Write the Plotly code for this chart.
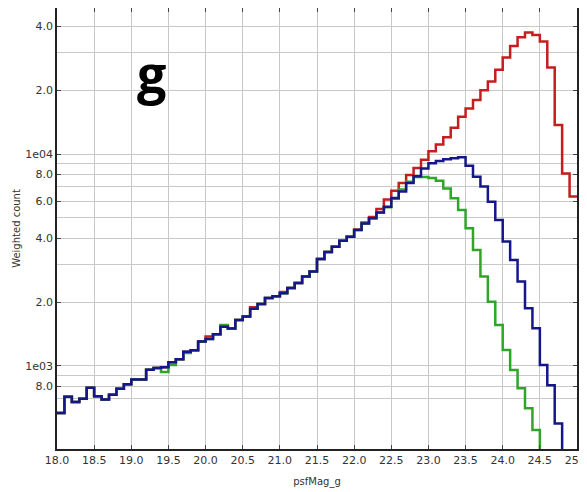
import numpy as np
import plotly.graph_objects as go

# bin starts (0.1 mag bins), 18.0 .. 24.9
bin_starts = np.round(np.arange(180, 250) / 10.0, 1)
bin_width = 0.1

red_counts = [600, 716, 676, 700, 788, 719, 694, 732, 780, 820,
              862, 862, 960, 977, 985, 1040, 1075, 1165, 1185, 1305,
              1375, 1410, 1530, 1500, 1645, 1710, 1890, 1960, 2090, 2130,
              2230, 2330, 2460, 2640, 2790, 3200, 3450, 3650, 3900, 4075,
              4400, 4750, 5050, 5500, 6100, 6700, 7300, 7950, 8600, 9400,
              10300, 11100, 12000, 13300, 15000, 16400, 18000, 20000, 22000, 25000,
              28500, 32300, 35600, 37400, 36400, 34000, 25600, 13700, 8100, 6300]

blue_counts = [600, 716, 676, 700, 788, 719, 694, 732, 780, 820,
               862, 862, 960, 977, 985, 1040, 1075, 1165, 1185, 1305,
               1340, 1410, 1530, 1500, 1645, 1710, 1860, 1960, 2090, 2130,
               2200, 2330, 2460, 2640, 2790, 3200, 3450, 3650, 3900, 4075,
               4380, 4700, 4970, 5300, 5640, 6200, 6650, 7300, 7850, 8550,
               9040, 9280, 9440, 9540, 9650, 8800, 7810, 7020, 5960, 4880,
               3860, 3160, 2500, 1870, 1505, 1011, 810, 535, 300, 150]

green_counts = [600, 716, 676, 700, 788, 719, 694, 732, 780, 820,
                862, 862, 960, 977, 935, 1010, 1075, 1150, 1185, 1305,
                1340, 1410, 1560, 1500, 1645, 1710, 1860, 1960, 2090, 2130,
                2200, 2330, 2460, 2640, 2790, 3200, 3450, 3650, 3900, 4075,
                4380, 4700, 4970, 5300, 5600, 6150, 6800, 7400, 7800, 7800,
                7700, 7480, 6880, 6180, 5440, 4460, 3520, 2640, 2010, 1560,
                1190, 957, 785, 631, 499, 300, 150, 80, 40, 20]

y_tickvals = [800, 1000, 2000, 4000, 6000, 8000, 10000, 20000, 40000]
y_ticktext = ["8.0", "1e03", "2.0", "4.0", "6.0", "8.0", "1e04", "2.0", "4.0"]
y_minor_vals = [700, 900, 3000, 5000, 7000, 9000, 30000]

x_edges = list(bin_starts) + [round(bin_starts[-1] + bin_width, 1)]

def step_y(vals):
    return list(vals) + [vals[-1]]

fig = go.Figure()
for name, vals, col in [("red", red_counts, "#c41e1e"),
                        ("green", green_counts, "#2fa52a"),
                        ("blue", blue_counts, "#15168a")]:
    fig.add_trace(go.Scatter(x=x_edges, y=step_y(vals), mode="lines",
                             line=dict(shape="hv", color=col, width=2.5),
                             name=name, showlegend=False))

axis_font = dict(family="DejaVu Sans", size=11, color="#333333")
title_font = dict(family="DejaVu Sans", size=10, color="#333333")
fig.update_xaxes(range=[18, 25], dtick=0.5, tick0=18, tickformat=".1f",
                 showgrid=True, gridcolor="#c8c8c8", gridwidth=1,
                 showline=True, linecolor="#222222", linewidth=1.5, mirror="ticks",
                 ticks="inside", ticklen=4, tickcolor="#444444",
                 tickfont=axis_font, zeroline=False, automargin=False,
                 ticklabeloverflow="allow",
                 title=dict(text="psfMag_g", font=title_font, standoff=12))
fig.update_yaxes(type="log", range=[2.608, 4.689],
                 tickmode="array", tickvals=y_tickvals, ticktext=y_ticktext,
                 showgrid=True, gridcolor="#c8c8c8", gridwidth=1,
                 minor=dict(tickmode="array", tickvals=y_minor_vals, showgrid=True,
                            gridcolor="#c8c8c8", gridwidth=1, ticks=""),
                 showline=True, linecolor="#222222", linewidth=1.5, mirror="ticks",
                 ticks="inside", ticklen=4, tickcolor="#444444",
                 tickfont=axis_font, zeroline=False, automargin=False,
                 ticklabeloverflow="allow",
                 title=dict(text="Weighted count", font=title_font, standoff=3))

fig.add_annotation(text="<b>g</b>", xref="paper", yref="paper",
                   x=(151 - 57) / 520, y=0.854, xanchor="center", yanchor="middle",
                   showarrow=False, font=dict(family="Open Sans", size=52, color="black"))

# partially visible legend box at the right edge
fig.add_shape(type="rect", xref="paper", yref="paper", x0=1.015, x1=1.2, y0=0.86, y1=0.995,
              line=dict(color="#444444", width=1.5), fillcolor="rgba(0,0,0,0)")

# page body has an 8px margin; size the figure so the plot area lands where the reference has it
fig.update_layout(width=579, height=484, margin=dict(l=49, r=10, t=0, b=43),
                  plot_bgcolor="white", paper_bgcolor="white")

fig.write_html("out.html")
